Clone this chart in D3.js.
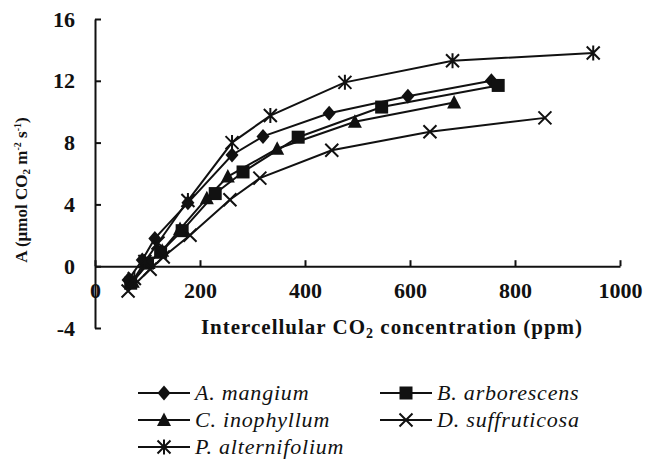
<!DOCTYPE html>
<html><head><meta charset="utf-8">
<script src="https://cdn.jsdelivr.net/npm/d3@7"></script>
</head>
<body style="margin:0;background:#fff"><svg id="c" width="645" height="461" style="display:block"></svg>
<script>
// ---- data ----
const seriesNames = ["A. mangium","B. arborescens","C. inophyllum","D. suffruticosa","P. alternifolium"];
const markerTypes = ["diamond","square","triangle","x","asterisk"];
const ciAmangium = [63,90,114,177,261,320,446,596,755];
const aAmangium  = [-0.9,0.4,1.8,4.1,7.2,8.4,9.9,11.0,12.0];
const ciBarbor   = [68,100,125,166,229,282,387,546,768];
const aBarbor    = [-1.1,0.2,0.9,2.3,4.7,6.1,8.35,10.3,11.7];
const ciCino     = [72,102,128,162,213,253,347,495,684];
const aCino      = [-1.0,0.2,1.0,2.4,4.4,5.8,7.6,9.35,10.6];
const ciDsuff    = [63,105,130,181,257,314,451,638,857];
const aDsuff     = [-1.6,-0.2,0.6,2.0,4.3,5.7,7.5,8.7,9.6];
const ciPalt     = [75,95,120,177,261,334,476,681,949];
const aPalt      = [-0.8,0.3,1.5,4.25,8.0,9.75,11.9,13.3,13.8];
const xTicks = [0,200,400,600,800,1000];
const yTicks = [-4,0,4,8,12,16];

const ciData = [ciAmangium,ciBarbor,ciCino,ciDsuff,ciPalt];
const aData  = [aAmangium,aBarbor,aCino,aDsuff,aPalt];

const FONT = '"Liberation Serif"';
const svg = d3.select("#c");
const x = d3.scaleLinear().domain([0,1000]).range([95,620]);
const y = d3.scaleLinear().domain([-4,16]).range([328,19]);
const ink = "#111";

function marker(g, type, cx, cy){
  const s = 6.5;
  if(type==="diamond"){
    g.append("path").attr("d",`M${cx},${cy-7.5}L${cx+6.5},${cy}L${cx},${cy+7.5}L${cx-6.5},${cy}Z`).attr("fill",ink);
  } else if(type==="square"){
    g.append("rect").attr("x",cx-6.5).attr("y",cy-6.5).attr("width",13).attr("height",13).attr("fill",ink);
  } else if(type==="triangle"){
    g.append("path").attr("d",`M${cx},${cy-7.5}L${cx+7},${cy+6}L${cx-7},${cy+6}Z`).attr("fill",ink);
  } else if(type==="x"){
    g.append("path").attr("d",`M${cx-s},${cy-s}L${cx+s},${cy+s}M${cx-s},${cy+s}L${cx+s},${cy-s}`).attr("stroke",ink).attr("stroke-width",2).attr("fill","none");
  } else {
    g.append("path").attr("d",`M${cx-s},${cy-s}L${cx+s},${cy+s}M${cx-s},${cy+s}L${cx+s},${cy-s}M${cx},${cy-s-1}L${cx},${cy+s+1}`).attr("stroke",ink).attr("stroke-width",2).attr("fill","none");
  }
}

// axes
const fmt = d => String(d);
const yAxis = d3.axisLeft(y).tickValues(yTicks).tickFormat(fmt).tickSize(-6).tickSizeOuter(0).tickPadding(20);
const gy = svg.append("g").attr("transform",`translate(${x(0)},0)`).call(yAxis);
const xAxis = d3.axisBottom(x).tickValues(xTicks).tickFormat(fmt).tickSize(-6).tickSizeOuter(0).tickPadding(21);
const gx = svg.append("g").attr("transform",`translate(0,${y(0)})`).call(xAxis);
[gx,gy].forEach(g=>{
  g.attr("font-family",null);
  g.selectAll("path,line").attr("stroke",ink).attr("stroke-width",2);
  g.selectAll("text").style("font-family",FONT).style("font-weight","bold").style("font-size","22px").attr("fill",ink);
});
gx.selectAll("text").attr("dy","0.5em");

// series
const line = d3.line().x(d=>x(d[0])).y(d=>y(d[1]));
const plot = svg.append("g");
ciData.forEach((ci,i)=>{
  const pts = ci.map((c,j)=>[c,aData[i][j]]);
  plot.append("path").datum(pts).attr("d",line).attr("fill","none").attr("stroke",ink).attr("stroke-width",2);
});
ciData.forEach((ci,i)=>{
  const g = plot.append("g");
  ci.forEach((c,j)=>marker(g, markerTypes[i], x(c), y(aData[i][j])));
});

// axis titles
const xt = svg.append("text").attr("x",392).attr("y",334).attr("text-anchor","middle")
  .style("font-family",FONT).style("font-weight","bold").style("font-size","21px").style("letter-spacing","1px").attr("fill",ink);
xt.append("tspan").text("Intercellular CO");
xt.append("tspan").text("2").style("font-size","14px").attr("dy",4);
xt.append("tspan").text(" concentration (ppm)").attr("dy",-4);

const yt = svg.append("text").attr("transform","translate(27,190) rotate(-90)").attr("text-anchor","middle")
  .style("font-family",FONT).style("font-weight","bold").style("font-size","17px").attr("fill",ink);
yt.append("tspan").text("A (µmol CO");
yt.append("tspan").text("2").style("font-size","11px").attr("dy",3);
yt.append("tspan").text(" m").attr("dy",-3);
yt.append("tspan").text("-2").style("font-size","10px").attr("dy",-6);
yt.append("tspan").text(" s").attr("dy",6);
yt.append("tspan").text("-1").style("font-size","10px").attr("dy",-6);
yt.append("tspan").text(")").attr("dy",6);

// legend
const legPos = [[138,393],[380,393],[138,420],[380,420],[138,447]];
seriesNames.forEach((n,i)=>{
  const [lx,ly] = legPos[i];
  const g = svg.append("g");
  g.append("line").attr("x1",lx).attr("x2",lx+52).attr("y1",ly).attr("y2",ly).attr("stroke",ink).attr("stroke-width",2);
  marker(g, markerTypes[i], lx+26, ly);
  g.append("text").attr("x",lx+57).attr("y",ly+7).style("font-family",FONT).style("font-style","italic").style("font-size","22px").style("letter-spacing","0.8px").attr("fill",ink).text(n);
});
</script></body></html>
